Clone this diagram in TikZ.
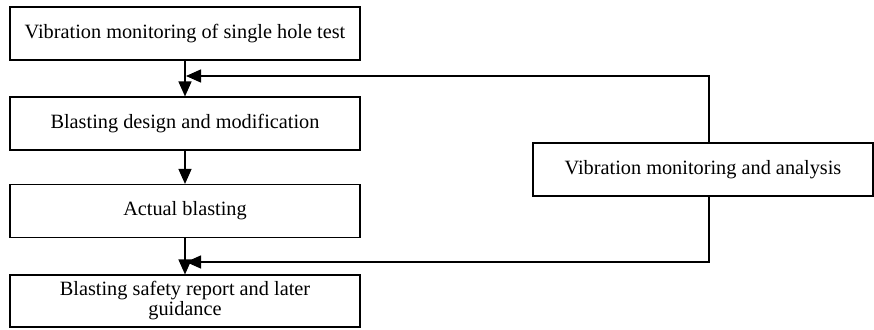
\documentclass[tikz,border=0pt]{standalone}
\usepackage{fontspec}
\setmainfont{Liberation Serif}
\usetikzlibrary{arrows.meta,calc}
\begin{document}
\begin{tikzpicture}[x=1pt,y=-1pt,
  stepbox/.style={draw,line width=1.1pt,minimum width=350pt,minimum height=53pt,
    inner sep=0pt,align=center,font=\fontsize{20.3}{20}\selectfont},
  flow/.style={line width=1.4pt,-{Triangle[length=15pt,width=13pt]}}]
\useasboundingbox (0,0) rectangle (874,329);
\node[stepbox] (b1) at (185,33.5) {Vibration monitoring of single hole test};
\node[stepbox] (b2) at (185,123.5) {Blasting design and modification};
\node[stepbox] (b3) at (185,211) {Actual blasting};
\node[stepbox,minimum height=52pt] (b4) at (185,301) {Blasting safety report and later\\guidance};
\node[stepbox,minimum width=340pt] (r) at (703,169.5) {Vibration monitoring and analysis};
\coordinate (j1) at (186,76);
\coordinate (j2) at (186,262);
\coordinate (rt) at (709,143);
\coordinate (rb) at (709,196);
\draw[flow] (b1.south) -- (b2.north);
\draw[flow] (b2.south) -- (b3.north);
\draw[flow] (b3.south) -- (b4.north);
\draw[flow] (rt) |- (j1);
\draw[flow] (rb) |- (j2);
\end{tikzpicture}
\end{document}
